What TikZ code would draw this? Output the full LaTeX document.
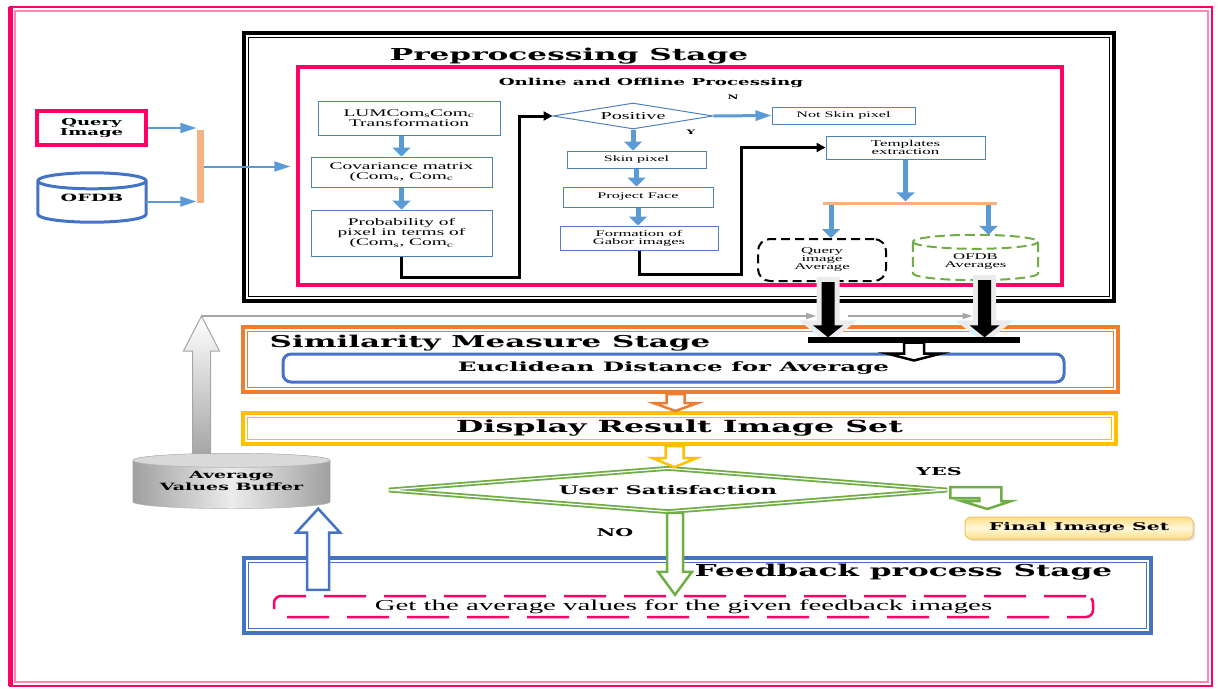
\documentclass[tikz,border=0pt]{standalone}
\usepackage{fontspec}
\setmainfont{Liberation Serif}[FakeStretch=1.9]
\newfontfamily\stagefont{DejaVu Serif}[FakeStretch=1.9]
\usetikzlibrary{shapes.geometric,arrows.meta,calc,shadows}
\pgfdeclarelayer{bg}
\pgfsetlayers{bg,main}

\definecolor{pinkc}{HTML}{FF0066}
\definecolor{lpink}{HTML}{FF85B3}
\definecolor{boxblue}{HTML}{4F81BD}
\definecolor{arrblue}{HTML}{5B9BD5}
\definecolor{dkblue}{HTML}{4472C4}
\definecolor{orng}{HTML}{ED7D31}
\definecolor{lorng}{HTML}{F4B183}
\definecolor{yel}{HTML}{FFC000}
\definecolor{grn}{HTML}{70AD47}
\definecolor{fy1}{HTML}{FFDF85}
\definecolor{fy2}{HTML}{FFF7DC}
\definecolor{fbord}{HTML}{F2C46A}

% inner line of a stage frame
\newcommand\inframe[3]{\draw[#3] ([shift={(#2,#2)}]#1.north west) rectangle ([shift={(-#2,-#2)}]#1.south east);}
% cylinder round a node
\newcommand\drawcyl[3]{%
  \path[#3] let \p1=(#1.north west), \p2=(#1.south east), \n1={(\x2-\x1)/2} in
    (\x1,\y1-#2) -- (\x1,\y2+#2) arc[start angle=180, end angle=360, x radius=\n1, y radius=#2]
    -- (\x2,\y1-#2) arc[start angle=0, end angle=180, x radius=\n1, y radius=#2] -- cycle
    (\x1,\y1-#2) arc[start angle=180, end angle=360, x radius=\n1, y radius=#2];}
% block arrows
\newcommand\fatdown[6]{%
  \path[#1] let \p1=(#2), \p2=(#3) in
    (\x1-#4pt,\y1) -- (\x1-#4pt,\y2+#6pt) -- (\x1-#5pt,\y2+#6pt) -- (\x1,\y2)
    -- (\x1+#5pt,\y2+#6pt) -- (\x1+#4pt,\y2+#6pt) -- (\x1+#4pt,\y1) -- cycle;}
\newcommand\fatup[6]{%
  \path[#1] let \p1=(#2), \p2=(#3) in
    (\x1-#4pt,\y1) -- (\x1-#4pt,\y2-#6pt) -- (\x1-#5pt,\y2-#6pt) -- (\x1,\y2)
    -- (\x1+#5pt,\y2-#6pt) -- (\x1+#4pt,\y2-#6pt) -- (\x1+#4pt,\y1) -- cycle;}

\begin{document}
\begin{tikzpicture}[x=1pt, y=-1pt,
  box/.style={draw=boxblue, line width=1pt, inner sep=0, align=center, font=\fontsize{10.2}{10}\selectfont},
  stg/.style={draw=#1, line width=4pt, inner sep=0},
  bld/.style={font=\stagefont\bfseries\fontsize{#1}{#1}\selectfont, inner sep=0, align=center},
  larr/.style={draw=arrblue, line width=2pt, -{Triangle[length=16pt, width=10pt]}},
  barr/.style={draw=arrblue, line width=5pt, -{Triangle[length=9pt, width=18pt]}},
  blk/.style={line width=3pt, -{Triangle[length=9pt, width=9pt]}},
  garr/.style={draw=gray!70, line width=1.5pt, -{Triangle[length=10pt, width=6pt]}},
  hollow/.style={fill=white, line width=2.5pt},
  fin/.style={draw=fbord, line width=1pt, rounded corners=6pt, top color=fy1, bottom color=fy1, middle color=fy2,
    drop shadow={shadow xshift=2pt, shadow yshift=-2pt, opacity=.25}},
]
\useasboundingbox (0,0) rectangle (1218,688);

\draw[pinkc, line width=2.5pt] (10,7) rectangle (1212,686);
\draw[lpink, line width=1.5pt] (15,11) rectangle (1208,682);
\draw[pinkc, line width=5pt] (10,7) -- (10,686);

% inputs
\node[draw=pinkc, line width=3.5pt, minimum width=109pt, minimum height=34pt, bld=9.5] (query) at (91.5,128) {Query\\Image};
\node[minimum width=108pt, minimum height=49pt, bld=10] (ofdb) at (92,197.5) {OFDB};
\drawcyl{ofdb}{8pt}{draw=dkblue, line width=3pt}
\node[fill=lorng, minimum width=7pt, minimum height=73pt, inner sep=0] (bar) at (200,166.5) {};

% preprocessing stage
\node[stg=black, minimum width=870pt, minimum height=268pt] (pre) at (679,167) {};
\inframe{pre}{6.5}{black, line width=1.5pt}
\node[bld=16.4] (pret) at (569,56) {Preprocessing Stage};
\node[draw=pinkc, line width=3.5pt, minimum width=764pt, minimum height=218pt, inner sep=0] (proc) at (680,176) {};
\node[bld=9.6] (proct) at (651,83) {Online and Offline Processing};

\coordinate (ofo) at ([yshift=-4pt]ofdb.east);
\draw[larr] (query.east) -- (query.east -| bar.west);
\draw[larr] (ofo) -- (ofo -| bar.west);
\draw[larr, shorten >=6pt] (bar.east) -- (bar.east -| proc.west);

\node[box, minimum width=182pt, minimum height=34pt] (lum) at (409,118) {LUMCom\textsubscript{s}Com\textsubscript{c}\\Transformation};
\node[box, minimum width=181pt, minimum height=30pt] (cov) at (401.5,172) {Covariance matrix\\(Com\textsubscript{s}, Com\textsubscript{c}};
\node[box, minimum width=181pt, minimum height=46pt] (prob) at (401.5,233) {Probability of\\pixel in terms of\\(Com\textsubscript{s}, Com\textsubscript{c}};

\node[diamond, draw=boxblue, line width=1pt, aspect=6, minimum width=160pt, minimum height=26pt, inner sep=0,
  font=\fontsize{10.6}{10}\selectfont] (pos) at (633,116) {Positive};
\node[bld=6.3] (nl) at (733,97) {N};
\node[bld=6.3] (yl) at (691,132) {Y};
\node[box, minimum width=143pt, minimum height=17pt, font=\fontsize{8.5}{9}\selectfont] (nsp) at (843.5,115.5) {Not Skin pixel};
\node[box, minimum width=139pt, minimum height=17pt, font=\fontsize{8.4}{9}\selectfont] (skin) at (636.5,159.5) {Skin pixel};
\node[box, minimum width=150pt, minimum height=20pt, font=\fontsize{8.6}{9}\selectfont] (proj) at (638,197) {Project Face};
\node[box, minimum width=158pt, minimum height=24pt, font=\fontsize{8.7}{8}\selectfont] (gab) at (639,238) {Formation of\\Gabor images};
\node[box, minimum width=159pt, minimum height=23pt, font=\fontsize{8.9}{8}\selectfont] (tmp) at (905.5,147.5) {Templates\\extraction};

\node[fill=lorng, minimum width=174pt, minimum height=3pt, inner sep=0] (spl) at (910,203) {};
\node[draw, line width=2pt, dash pattern=on 9pt off 5pt, rounded corners=12pt, minimum width=128pt, minimum height=42pt,
  inner sep=0, align=center, font=\fontsize{8.8}{8}\selectfont] (qavg) at (822,260) {Query\\image\\Average};
\node[minimum width=125pt, minimum height=45pt, inner sep=0,
  label={[yshift=-4pt, align=center, font=\fontsize{8.8}{8}\selectfont]center:OFDB\\Averages}] (ofa) at (975.5,257.5) {};
\drawcyl{ofa}{7pt}{draw=grn, line width=2pt, dash pattern=on 10pt off 5pt}

\draw[barr] (lum.south -| cov.north) -- (cov.north);
\draw[barr] (cov.south) -- (prob.north);
\draw[blk] (prob.south) -- ++(0,21) -| ([xshift=-33pt]pos.west) -- (pos.west);
\draw[larr, line width=3pt] (pos.east) -- (nsp.west);
\draw[barr] (pos.south) -- (pos.south |- skin.north);
\draw[barr] (skin.south) -- (skin.south |- proj.north);
\draw[barr] (proj.south) -- (proj.south |- gab.north);
\draw[blk] (gab.south) -- ++(0,24) -| ([xshift=-84pt]tmp.west) -- (tmp.west);
\draw[barr] (tmp.south) -- (tmp.south |- spl.north);
\coordinate (qin) at ([xshift=9pt]qavg.north);
\coordinate (oin) at ([xshift=13pt]ofa.north);
\draw[barr] (spl.south -| qin) -- (qin);
\draw[barr] (spl.south -| oin) -- (oin);

% similarity measure stage
\node[stg=orng, minimum width=875pt, minimum height=65pt] (sim) at (680.5,359.5) {};
\inframe{sim}{6.5}{orng, line width=1.5pt}
\node[bld=16.3] (simt) at (490,343) {Similarity Measure Stage};
\node[draw=dkblue, line width=3pt, rounded corners=8pt, minimum width=781pt, minimum height=28pt, bld=12.9] (euc) at (673.5,368) {Euclidean Distance for Average};

% display and decision
\node[stg=yel, minimum width=873pt, minimum height=31pt, bld=16.7] (disp) at (679.5,428.5) {Display Result Image Set};
\inframe{disp}{6.5}{yel, line width=1.5pt}
\node[diamond, draw=grn, line width=1.8pt, double=white, double distance=1.2pt, aspect=12, minimum width=559pt,
  minimum height=44pt, bld=11.9] (sat) at (668,490) {User Satisfaction};
\node[bld=10.9] (yes) at (939,472) {YES};
\node[bld=10.8] (no) at (615,533) {NO};
\node[fin, minimum width=228pt, minimum height=22pt, bld=10.7] (final) at (1079,528) {Final Image Set};

% feedback stage
\node[stg=dkblue, minimum width=907pt, minimum height=75pt] (fb) at (697.5,595.5) {};
\inframe{fb}{6.5}{dkblue, line width=1.5pt}
\node[bld=16.4] (fbt) at (903.5,572) {Feedback process Stage};
\node[draw=pinkc, line width=2.5pt, dash pattern=on 42pt off 18pt, rounded corners=7pt, minimum width=819pt, minimum height=21pt,
  inner sep=0, font=\fontsize{15.2}{15}\selectfont] (getb) at (683.5,606.5) {Get the average values for the given feedback images};

% buffer
\node[minimum width=197pt, minimum height=55pt, inner sep=0, align=center, font=\stagefont\bfseries\fontsize{10}{12}\selectfont] (buf) at (231.5,481) {Average\\Values Buffer};
\begin{pgfonlayer}{bg}
  \drawcyl{buf}{7pt}{draw=gray!60, left color=gray!75, right color=gray!75, middle color=gray!15}
  \path[fill=gray!30, draw=gray!60] ([yshift=-7pt]buf.north) ellipse [x radius=98.5pt, y radius=7pt];
\end{pgfonlayer}

% block arrows
\coordinate (up) at (201,316);
\coordinate (bufout) at ([xshift=-30pt]buf.north);
\coordinate (bufin) at ([xshift=-12pt]buf.south east);
\coordinate (fbout) at ([yshift=5pt]bufin |- getb.north);
\coordinate (qout) at ([xshift=6pt]qavg.south);
\coordinate (oout) at ([xshift=9pt]ofa.south);
\node[fill=black, minimum width=212pt, minimum height=5pt, inner sep=0] (jn) at (914,340) {};

\fatup{draw=gray!70, line width=1pt, top color=white, bottom color=gray!70}{bufout}{up}{9}{18}{35}
\draw[garr] (up) -- ([xshift=-12pt]qout |- up);
\draw[garr] ([xshift=20pt]qout |- up) -- ([xshift=-12pt]oout |- up);
\fatdown{fill=black, preaction={draw=white!92!black, line width=10pt}}{qout}{jn.north}{6.5}{15}{12}
\fatdown{fill=black, preaction={draw=white!92!black, line width=10pt}}{oout}{jn.north}{6.5}{15}{12}
\fill (jn.north west) rectangle (jn.south east);
\fatdown{hollow, draw=black}{jn.south}{[yshift=-8pt]euc.north}{10}{27}{7}
\coordinate (simout) at ([xshift=-5pt]sim.south);
\coordinate (dispout) at ([xshift=-5pt]disp.south);
\coordinate (satout) at ([xshift=7pt]sat.south);
\fatdown{hollow, draw=orng}{simout}{disp.north}{9}{22}{8}
\fatdown{hollow, draw=yel}{dispout}{sat.north}{9}{22}{9}
\fatdown{hollow, draw=grn}{satout}{getb.north}{8}{17}{23}
\fatup{hollow, draw=dkblue}{fbout}{bufin}{11}{22}{24}
\draw[hollow, draw=grn] (sat.east) ++(2,-3) -- ++(51,0) -- ++(0,14) -- ++(10,0) -- ++(-24,8)
  -- ++(-26,-8) -- ++(18,0) -- ++(0,-3) -- ++(-29,0) -- cycle;
\end{tikzpicture}
\end{document}
